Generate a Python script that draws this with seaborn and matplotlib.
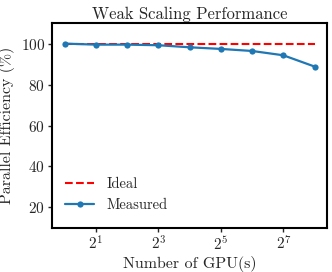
import pandas as pd
import seaborn as sns
import matplotlib.pyplot as plt
from matplotlib.ticker import FixedLocator, LogFormatterSciNotation, NullLocator

gpus = [1, 2, 4, 8, 16, 32, 64, 128, 256]
ideal = [100, 100, 100, 100, 100, 100, 100, 100, 100]
measured = [100, 99.5, 99.5, 99.2, 98.2, 97.4, 96.4, 94.3, 88.8]
xticks = [2, 8, 32, 128]

sns.set_style('white')
plt.rcParams['font.family'] = 'serif'
plt.rcParams['font.serif'] = ['cmr10']
plt.rcParams['mathtext.fontset'] = 'cm'
plt.rcParams['axes.formatter.use_mathtext'] = True

df = pd.DataFrame({'gpus': gpus, 'Ideal': ideal, 'Measured': measured})

fig, ax = plt.subplots(figsize=(3.32, 2.72), dpi=100)
sns.lineplot(x='gpus', y='Ideal', data=df, ax=ax, color='red',
             linestyle='--', linewidth=1.5, label='Ideal')
sns.lineplot(x='gpus', y='Measured', data=df, ax=ax, color='#1f77b4',
             marker='o', markersize=4.5, markeredgewidth=0, linewidth=1.6,
             label='Measured')

ax.set_xscale('log', base=2)
ax.xaxis.set_major_locator(FixedLocator(xticks))
ax.xaxis.set_major_formatter(LogFormatterSciNotation(base=2))
ax.xaxis.set_minor_locator(NullLocator())
ax.set_ylim(10, 110)
ax.set_yticks([20, 40, 60, 80, 100])
ax.tick_params(axis='both', direction='out', length=3, width=1, labelsize=11,
               pad=2, bottom=True, left=True)
for s in ax.spines.values():
    s.set_linewidth(1.5)
    s.set_color('black')

ax.set_title('Weak Scaling Performance', fontsize=12, pad=3)
ax.set_xlabel('Number of GPU(s)', fontsize=11.5, labelpad=2)
ax.set_ylabel('Parallel Efficiency (%)', fontsize=11.5, labelpad=4)
ax.legend(loc='lower left', bbox_to_anchor=(0, 0.015), frameon=False,
          fontsize=10.5, labelspacing=0.45)

fig.subplots_adjust(left=0.157, right=0.985, top=0.915, bottom=0.162)
fig.savefig('out.png')
